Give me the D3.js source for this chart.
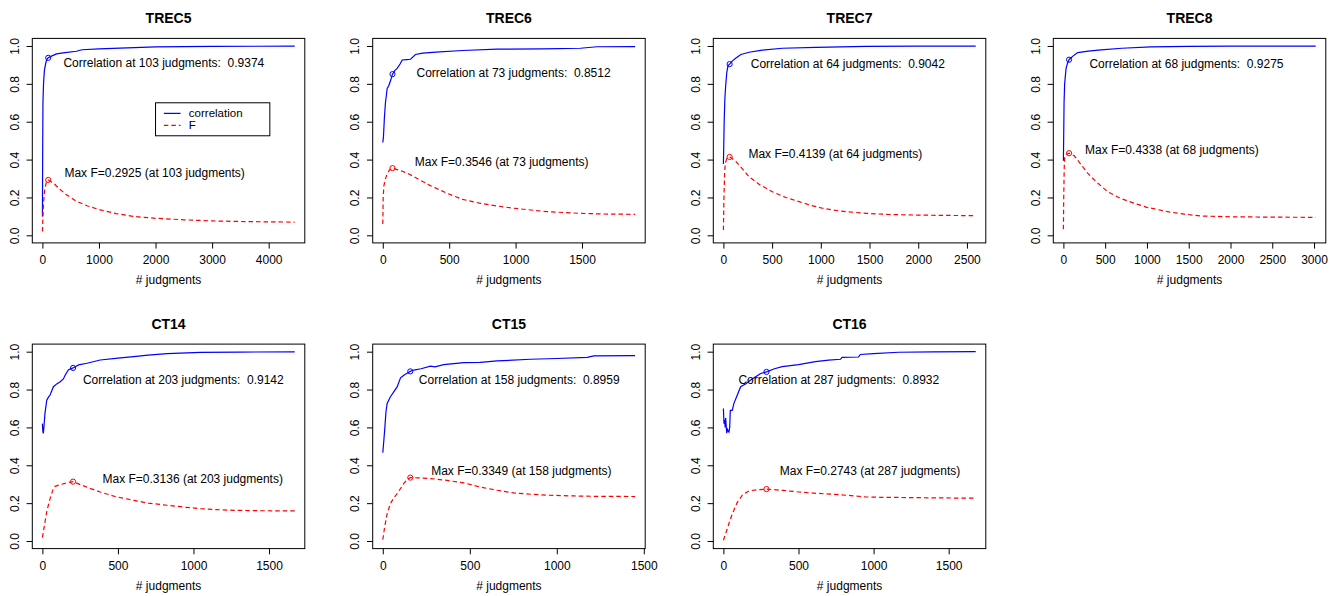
<!DOCTYPE html>
<html>
<head>
<meta charset="utf-8">
<script src="https://cdn.jsdelivr.net/npm/d3@7"></script>
<style>
  body { margin: 0; background: #fff; }
  svg { display: block; font-family: "Liberation Sans", Arial, Helvetica, sans-serif; }
  text { fill: #000; }
</style>
</head>
<body>
<svg id="chart" width="1338" height="596"></svg>
<script>
// ---------- DATA ----------
const titles = ["TREC5", "TREC6", "TREC7", "TREC8", "CT14", "CT15", "CT16"];
const bestN = [103, 73, 64, 68, 203, 158, 287];
const corrAtBest = [0.9374, 0.8512, 0.9042, 0.9275, 0.9142, 0.8959, 0.8932];
const maxF = [0.2925, 0.3546, 0.4139, 0.4338, 0.3136, 0.3349, 0.2743];
const xTicks = [
  [0, 1000, 2000, 3000, 4000],
  [0, 500, 1000, 1500],
  [0, 500, 1000, 1500, 2000, 2500],
  [0, 500, 1000, 1500, 2000, 2500, 3000],
  [0, 500, 1000, 1500],
  [0, 500, 1000, 1500],
  [0, 500, 1000, 1500]
];
const yTicks = [0, 0.2, 0.4, 0.6, 0.8, 1.0];

const trec5Corr = [[1,0.10],[3,0.3],[6,0.5],[10,0.7],[20,0.8],[35,0.87],[60,0.91],[80,0.93],[103,0.9374],[150,0.945],[250,0.958],[400,0.965],[600,0.972],[700,0.98],[1000,0.985],[1500,0.99],[2000,0.995],[3000,0.998],[4460,0.999]];
const trec5F = [[1,0.02],[10,0.1],[20,0.17],[40,0.24],[70,0.28],[103,0.2925],[200,0.275],[300,0.245],[432,0.213],[600,0.18],[800,0.155],[1022,0.134],[1300,0.115],[1600,0.1],[2000,0.09],[2500,0.082],[3000,0.076],[3500,0.073],[4000,0.071],[4460,0.07]];

const trec6Corr = [[0,0.49],[5,0.52],[12,0.62],[20,0.7],[33,0.776],[45,0.79],[60,0.82],[73,0.8512],[90,0.87],[108,0.882],[130,0.905],[146,0.926],[180,0.928],[209,0.93],[246,0.955],[300,0.962],[400,0.968],[600,0.976],[861,0.983],[1200,0.985],[1488,0.988],[1613,0.996],[1900,0.997]];
const trec6F = [[0,0.06],[3,0.2],[8,0.26],[15,0.285],[30,0.32],[50,0.345],[73,0.3546],[120,0.345],[180,0.33],[233,0.31],[350,0.265],[484,0.222],[600,0.19],[735,0.169],[860,0.155],[986,0.143],[1237,0.125],[1488,0.116],[1700,0.112],[1900,0.111]];

const trec7Corr = [[0,0.377],[3,0.45],[8,0.6],[15,0.72],[24,0.794],[35,0.86],[47,0.895],[64,0.9042],[90,0.92],[126,0.935],[180,0.955],[263,0.967],[400,0.978],[606,0.988],[949,0.993],[1463,0.998],[2000,0.999],[2590,0.999]];
const trec7F = [[0,0.028],[5,0.18],[12,0.32],[19,0.38],[35,0.405],[64,0.4139],[120,0.395],[180,0.36],[263,0.31],[380,0.265],[503,0.23],[640,0.2],[777,0.178],[900,0.158],[1017,0.143],[1200,0.128],[1463,0.116],[1700,0.11],[1977,0.107],[2300,0.105],[2590,0.104]];

const trec8Corr = [[0,0.394],[3,0.5],[8,0.7],[15,0.8],[32,0.882],[50,0.91],[68,0.9275],[110,0.945],[172,0.965],[300,0.973],[451,0.979],[700,0.988],[1048,0.995],[1500,0.998],[2000,0.999],[3020,0.999]];
const trec8F = [[0,0.032],[4,0.2],[10,0.36],[16,0.41],[35,0.428],[68,0.4338],[130,0.42],[200,0.38],[291,0.328],[400,0.28],[530,0.23],[680,0.196],[849,0.169],[1000,0.148],[1247,0.125],[1450,0.112],[1645,0.102],[2000,0.098],[2500,0.096],[3020,0.095]];

const ct14Corr = [[0,0.62],[3,0.58],[6,0.568],[10,0.6],[17,0.674],[29,0.744],[40,0.76],[51,0.771],[73,0.815],[95,0.83],[118,0.841],[139,0.856],[151,0.877],[173,0.905],[203,0.9142],[240,0.93],[295,0.939],[383,0.956],[500,0.966],[604,0.974],[700,0.982],[825,0.99],[1046,0.996],[1300,0.998],[1670,0.999]];
const ct14F = [[0,0.018],[15,0.09],[30,0.16],[51,0.224],[70,0.27],[84,0.289],[120,0.298],[160,0.307],[203,0.3136],[260,0.295],[320,0.277],[383,0.259],[480,0.235],[604,0.215],[700,0.2],[825,0.189],[950,0.178],[1046,0.171],[1150,0.166],[1268,0.162],[1450,0.16],[1670,0.159]];

const ct15Corr = [[0,0.466],[5,0.52],[12,0.6],[18,0.68],[25,0.727],[44,0.762],[65,0.79],[83,0.815],[102,0.862],[125,0.878],[140,0.886],[158,0.8959],[178,0.903],[220,0.91],[274,0.924],[300,0.92],[350,0.932],[466,0.942],[560,0.943],[657,0.951],[849,0.96],[1000,0.964],[1175,0.97],[1213,0.978],[1450,0.979]];
const ct15F = [[0,0.007],[10,0.07],[25,0.145],[44,0.198],[65,0.23],[83,0.251],[100,0.275],[121,0.304],[140,0.325],[158,0.3349],[200,0.334],[274,0.33],[370,0.32],[466,0.307],[560,0.285],[657,0.268],[753,0.254],[850,0.247],[944,0.242],[1100,0.238],[1232,0.236],[1450,0.235]];

const ct16Corr = [[0,0.70],[4,0.62],[8,0.64],[12,0.6],[15,0.65],[22,0.57],[27,0.59],[32,0.58],[37,0.575],[42,0.6],[46,0.69],[59,0.69],[70,0.727],[88,0.762],[115,0.815],[150,0.83],[181,0.85],[220,0.87],[248,0.885],[287,0.8932],[340,0.91],[392,0.921],[500,0.932],[613,0.947],[700,0.955],[780,0.96],[790,0.97],[900,0.972],[912,0.985],[1000,0.99],[1167,0.997],[1400,0.999],[1680,1.0]];
const ct16F = [[0,0.004],[20,0.05],[40,0.1],[60,0.145],[90,0.2],[126,0.242],[170,0.265],[220,0.27],[287,0.2743],[400,0.267],[503,0.259],[600,0.253],[725,0.247],[850,0.24],[946,0.233],[1050,0.231],[1167,0.23],[1400,0.228],[1680,0.226]];

const corrSeries = [trec5Corr, trec6Corr, trec7Corr, trec8Corr, ct14Corr, ct15Corr, ct16Corr];
const fSeries = [trec5F, trec6F, trec7F, trec8F, ct14F, ct15F, ct16F];

// annotation anchors (data units: x of text start, y of text centre)
const corrLabelAt = [[372,0.909],[254,0.856],[281,0.905],[311,0.905],[268,0.854],[207,0.854],[100,0.854]];
const fLabelAt = [[389,0.331],[241,0.389],[257,0.429],[259,0.451],[398,0.326],[278,0.370],[376,0.370]];
const legendAt = [2000, 0.70]; // only in first panel
const legendLabels = ["correlation", "F"];

// ---------- LAYOUT ----------
const boxLeft = [32.3, 372.7, 713.3, 1053.3];
const boxTop = [38.4, 344.1];
const boxW = 272.5, boxH = 204.5;
const svg = d3.select("#chart");
const blue = "#0000FF", red = "#FF0000";

titles.forEach((title, i) => {
  const col = i % 4, row = Math.floor(i / 4);
  const L = boxLeft[col], T = boxTop[row];
  const cData = corrSeries[i], fData = fSeries[i];
  const xmax = d3.max(cData.concat(fData), d => d[0]);
  const xmin = 0;
  const pad = (xmax - xmin) * 0.04;
  const x = d3.scaleLinear().domain([xmin - pad, xmax + pad]).range([L, L + boxW]);
  const y = d3.scaleLinear().domain([-0.04, 1.04]).range([T + boxH, T]);
  const g = svg.append("g");

  // title
  g.append("text").attr("x", L + boxW / 2).attr("y", T - 15)
    .attr("text-anchor", "middle").attr("font-weight", "bold").attr("font-size", 14)
    .text(title);

  // x axis
  const xa = g.append("g").attr("transform", `translate(0,${T + boxH})`)
    .call(d3.axisBottom(x).tickValues(xTicks[i]).tickSize(5.7).tickPadding(4).tickFormat(d3.format("d")));
  xa.select(".domain").remove();
  xa.selectAll("text").attr("font-size", 12).attr("font-family", null).attr("fill", "#000").attr("dy", "0.95em");
  xa.selectAll("line").attr("stroke", "#000");

  // y axis
  const ya = g.append("g").attr("transform", `translate(${L},0)`)
    .call(d3.axisLeft(y).tickValues(yTicks).tickSize(5.7).tickFormat(d3.format(".1f")));
  ya.select(".domain").remove();
  ya.selectAll("line").attr("stroke", "#000");
  ya.selectAll("text").attr("font-size", 12).attr("font-family", null).attr("fill", "#000")
    .attr("x", null).attr("dy", null)
    .attr("text-anchor", "middle")
    .attr("transform", "translate(-17.3,0) rotate(-90)")
    .attr("dominant-baseline", "central");

  // x label
  g.append("text").attr("x", L + boxW / 2).attr("y", T + boxH + 36.7)
    .attr("text-anchor", "middle").attr("font-size", 12).attr("dy", "0.35em")
    .text("# judgments");

  // lines
  const line = d3.line().x(d => x(d[0])).y(d => y(d[1]));
  g.append("path").datum(cData).attr("d", line)
    .attr("fill", "none").attr("stroke", blue).attr("stroke-width", 1.2);
  g.append("path").datum(fData).attr("d", line)
    .attr("fill", "none").attr("stroke", red).attr("stroke-width", 1.2)
    .attr("stroke-dasharray", "4.5,3");

  // markers
  g.append("circle").attr("cx", x(bestN[i])).attr("cy", y(corrAtBest[i])).attr("r", 2.6)
    .attr("fill", "none").attr("stroke", blue).attr("stroke-width", 1);
  g.append("circle").attr("cx", x(bestN[i])).attr("cy", y(maxF[i])).attr("r", 2.6)
    .attr("fill", "none").attr("stroke", red).attr("stroke-width", 1);

  // annotations
  g.append("text").attr("x", x(corrLabelAt[i][0])).attr("y", y(corrLabelAt[i][1]))
    .attr("dy", "0.35em").attr("font-size", 12).attr("xml:space", "preserve")
    .style("white-space", "pre")
    .text(`Correlation at ${bestN[i]} judgments:  ${corrAtBest[i].toFixed(4)}`);
  g.append("text").attr("x", x(fLabelAt[i][0])).attr("y", y(fLabelAt[i][1]))
    .attr("dy", "0.35em").attr("font-size", 12)
    .text(`Max F=${maxF[i].toFixed(4)} (at ${bestN[i]} judgments)`);

  // legend
  if (i === 0) {
    const lx = x(legendAt[0]), ly = y(legendAt[1]);
    const lg = g.append("g").attr("transform", `translate(${lx},${ly})`);
    lg.append("rect").attr("width", 114.3).attr("height", 33)
      .attr("fill", "#fff").attr("stroke", "#000").attr("stroke-width", 1);
    const rows = [{c: blue, dash: null, t: legendLabels[0], yy: 10.6}, {c: red, dash: "4.5,3", t: legendLabels[1], yy: 22.6}];
    rows.forEach(r => {
      lg.append("line").attr("x1", 8.3).attr("x2", 25).attr("y1", r.yy).attr("y2", r.yy)
        .attr("stroke", r.c).attr("stroke-width", 1.2).attr("stroke-dasharray", r.dash);
      lg.append("text").attr("x", 33.3).attr("y", r.yy).attr("dy", "0.35em")
        .attr("font-size", 11.5).text(r.t);
    });
  }

  // box
  g.append("rect").attr("x", L).attr("y", T).attr("width", boxW).attr("height", boxH)
    .attr("fill", "none").attr("stroke", "#000").attr("stroke-width", 1);
});
</script>
</body>
</html>
